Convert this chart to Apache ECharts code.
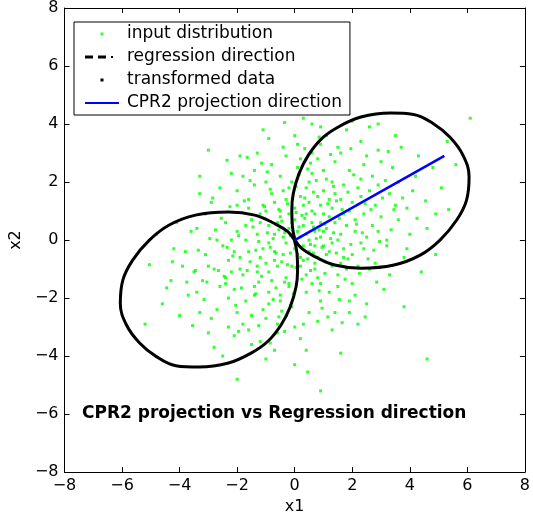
<!DOCTYPE html>
<html><head><meta charset="utf-8">
<script src="https://cdn.jsdelivr.net/npm/echarts@6/dist/echarts.min.js"></script>
<style>html,body{margin:0;padding:0;background:#fff}#c{width:533px;height:520px}</style>
</head><body><div id="c"></div>
<script>
const ticks = [-8,-6,-4,-2,0,2,4,6,8];
const inputPoints = [
[0.2,0.1],[-0.5,0.8],[1.2,-0.4],[0.8,1.5],[-1.3,-0.9],[2.1,0.7],[-0.2,-1.6],[0.6,2.3],[-2.0,0.3],[1.7,1.9],
[-0.9,-2.2],[2.8,1.2],[-1.6,1.4],[0.3,-0.7],[1.1,0.4],[-0.7,0.2],[0.0,1.1],[-1.1,-0.3],[1.5,-1.2],[0.5,-2.5],
[-2.4,-1.5],[2.4,2.6],[-0.3,2.9],[3.2,-0.2],[-3.1,0.9],[0.9,3.3],[-1.8,-2.9],[1.9,-2.1],[-0.6,-3.2],[3.6,2.0],
[-2.7,-2.4],[2.6,-1.0],[-1.4,2.4],[0.1,-1.1],[0.7,0.9],[-0.4,-0.5],[1.3,1.1],[-0.8,1.6],[2.0,-0.5],[-1.9,-0.6],
[0.4,1.8],[1.6,0.2],[-1.2,0.6],[0.9,-1.5],[-0.1,2.0],[2.3,1.5],[-2.2,-1.1],[1.0,-0.2],[-0.5,-1.9],[1.4,2.7],
[-3.4,-1.8],[3.9,1.1],[-2.6,1.8],[2.9,3.1],[-1.5,-3.6],[0.2,-3.4],[4.3,2.9],[-3.8,-0.4],[1.8,3.8],[-0.9,3.5],
[3.1,-1.7],[-2.1,-3.3],[4.6,0.4],[-4.0,-2.6],[2.2,-2.9],[-1.0,-4.1],[0.6,4.0],[5.1,1.8],[-3.3,2.2],[3.5,3.6],
[0.3,0.5],[-0.2,0.4],[0.8,-0.6],[-0.6,-0.9],[1.2,0.8],[-1.0,1.0],[0.5,1.3],[0.0,-0.3],[1.9,1.0],[-1.7,0.0],
[0.1,2.5],[2.5,0.1],[-0.3,-2.6],[-2.5,-0.2],[1.6,-0.8],[-1.4,-1.6],[0.7,-1.0],[-0.7,1.3],[2.7,2.2],[-2.3,-2.0],
[1.1,2.1],[-1.1,-2.4],[2.0,-1.5],[-2.0,1.2],[0.4,-1.8],[-0.4,1.7],[3.0,0.8],[-3.0,-0.9],[1.4,-2.5],[-1.3,3.0],
[0.9,0.1],[-0.1,-0.9],[0.6,0.6],[-0.9,-0.1],[1.3,-0.1],[0.2,1.5],[-0.3,-1.3],[1.8,0.5],[-1.5,0.7],[0.5,-0.4],
[2.2,1.8],[-2.1,-1.7],[1.0,1.7],[-0.8,-1.4],[3.3,1.6],[-3.2,-1.4],[0.8,2.8],[-0.6,-2.9],[2.4,-0.3],[-2.4,0.6],
[1.5,3.2],[-1.6,-3.1],[3.8,-0.6],[-3.6,0.3],[0.0,3.6],[0.4,-3.8],[4.1,1.7],[-4.3,-1.4],[2.6,3.9],[-2.8,-3.7],
[1.7,-0.3],[-0.2,0.9],[0.3,-0.2],[-1.2,-0.6],[2.1,0.3],[-0.5,2.2],[0.9,-2.1],[1.6,1.4],[-1.8,-1.2],[0.0,0.7],
[1.2,-1.8],[-1.0,2.0],[2.9,0.3],[-2.7,0.0],[0.6,3.0],[-0.1,-2.3],[3.4,2.5],[-3.3,-2.5],[1.9,2.4],[-1.7,-2.1],
[2.5,-2.2],[-2.2,2.3],[4.0,0.2],[-3.9,-0.9],[1.1,3.6],[-1.2,-3.5],[4.8,2.5],[-4.6,-2.2],[0.3,4.2],[0.0,-4.3],
[0.7,0.3],[-0.7,-0.4],[1.0,0.9],[-0.4,0.1],[1.4,0.6],[-1.3,0.2],[0.2,-0.6],[0.4,0.9],[-0.9,0.5],[1.7,-0.6],
[2.3,2.1],[-2.3,-0.7],[0.8,-2.8],[-0.8,2.6],[3.6,0.7],[-3.5,-1.1],[2.8,-0.8],[-2.9,1.3],[1.3,-3.1],[-1.4,1.9],
[5.3,3.4],[-4.1,0.6],[4.4,-1.1],[-3.0,-3.2],[2.0,4.1],[-1.9,2.9],[3.7,3.2],[6.1,4.2],[4.6,-4.1],[-2.5,-4.0],
[0.1,0.3],[0.5,0.0],[-0.3,-0.1],[0.9,0.6],[-0.6,0.6],[0.2,-0.9],[1.1,-0.5],[-1.0,-0.8],[0.6,1.0],[1.5,0.0],
[-1.6,-0.4],[0.3,1.2],[-0.2,-1.5],[2.0,1.3],[-1.9,-1.0],[1.2,1.4],[-1.1,1.2],[0.8,-1.3],[2.4,0.9],[-2.4,-1.3],
[0.5,2.0],[-0.5,-2.1],[1.8,-1.0],[-1.6,1.1],[2.6,1.7],[-2.6,-1.6],[1.0,2.4],[-1.0,-2.7],[3.2,0.0],[-3.1,-0.5],
[0.2,2.8],[0.3,-2.9],[2.1,-1.9],[-2.0,1.7],[3.0,2.7],[-2.9,-2.7],[1.6,3.0],[-1.5,-2.6],[3.9,-0.3],[-3.7,-1.9],
[2.7,0.5],[-0.4,3.2],[1.5,-1.6],[-0.9,-1.8],[2.2,-0.9],[-2.2,0.0],[0.7,-0.8],[-0.3,1.4],[1.3,2.0],[-1.3,-1.1],
[3.5,1.2],[-3.4,0.4],[0.9,3.9],[-0.7,-3.8],[4.2,2.2],[-4.2,-0.3],[2.3,3.4],[-2.3,-3.0],[4.9,0.9],[-1.1,3.8],
[0.4,0.2],[0.1,-0.5],[-0.1,0.6],[0.7,-0.2],[-0.7,-0.7],[1.0,0.3],[-0.5,1.0],[0.6,-1.5],[1.4,1.6],[-1.4,-1.9],
[2.9,1.9],[-2.8,-1.0],[1.9,-2.5],[-1.8,2.2],[0.1,3.3],[0.0,-3.0],[3.3,-1.2],[-3.3,1.6],[2.5,2.9],[-2.0,-2.5],
[1.7,0.9],[-1.7,0.5],[0.4,-1.2],[-0.2,1.8],[2.3,-0.1],[-2.1,-0.4],[0.9,1.2],[-0.9,-1.1],[1.3,-0.9],[-1.2,0.9],
[0.15,0.45],[-0.35,0.25],[0.55,-0.15],[-0.15,-0.45],[0.85,0.35],[-0.85,-0.25],[0.35,0.75],[-0.45,-0.75],[1.05,-0.75],[-1.05,0.75],
[0.25,-1.35],[-0.25,1.25],[1.35,0.25],[-1.35,-0.35],[0.65,1.65],[-0.65,-1.65],[1.75,-1.35],[-1.75,1.35],[2.15,0.55],[-2.15,-0.55],
[0.45,2.45],[-0.45,-2.45],[2.55,-0.65],[-2.55,0.75],[1.25,2.95],[-1.25,-2.95],[3.05,1.45],[-3.05,-1.45],[0.95,-2.35],[-0.95,2.35],
[1.85,1.65],[-1.85,-1.65],[0.05,1.85],[-0.05,-1.85],[2.45,1.25],[-2.45,-1.25],[1.55,-2.05],[-1.55,2.05],[3.35,0.35],[-3.35,-0.35],
[0.75,0.05],[-0.75,0.05],[0.05,0.95],[0.05,-0.95],[1.15,1.25],[-1.15,-1.25],[1.45,-0.45],[-1.45,0.45],[0.55,-1.05],[-0.55,1.05],
[2.05,2.25],[-2.05,-2.25],[2.75,-0.35],[-2.75,0.35],[0.35,3.15],[-0.35,-3.15],[3.15,2.05],[-3.15,-2.05],[1.65,-2.85],[-1.65,2.85],
[0.25,0.85],[-0.25,-0.85],[0.95,-0.25],[-0.95,0.25],[1.55,0.75],[-1.55,-0.75],[0.45,-0.65],[-0.45,0.65],[1.95,-0.15],[-1.95,0.15],
[2.65,1.05],[-2.65,-1.05],[1.05,-1.15],[-1.05,1.15],[0.15,2.25],[-0.15,-2.25],[2.25,-1.15],[-2.25,1.15],[1.35,1.85],[-1.35,-1.85],
[3.75,1.45],[-3.75,-1.45],[0.85,3.55],[-0.85,-3.55],[4.25,0.75],[-4.25,-0.75],[2.85,-1.45],[-2.85,1.45],[1.95,3.15],[-1.95,-3.15],
[0.65,0.45],[-0.65,-0.45],[1.25,0.05],[-1.25,-0.05],[0.35,1.45],[-0.35,-1.45],[1.65,1.05],[-1.65,-1.05],[0.85,-1.75],[-0.85,1.75],
[2.35,0.25],[-2.35,-0.25],[0.55,2.65],[-0.55,-2.65],[2.95,-0.05],[-2.95,0.05],[1.15,-2.65],[-1.15,2.65],[3.45,1.05],[-3.45,-1.05],
[1.05,0.55],[-0.15,0.15],[0.25,-0.25],[0.65,-0.45],[-0.55,0.35],[1.45,1.35],[-1.25,-1.45],[0.75,2.05],[-0.75,-2.05],[1.85,-0.65],
[4.55,1.35],[-4.45,-1.65],[3.25,3.05],[-3.55,-2.95],[5.35,1.05],[-5.05,-0.85],[2.45,-2.65],[-2.35,2.75],[0.45,-4.55],[-0.35,4.05],
[-4.8,0.2],[5.6,2.6],[-2.0,-4.8],[1.6,-3.9],[3.8,-2.3],[-3.0,3.1],[0.9,-5.2],[-5.2,-2.9],[4.9,-0.5],[2.9,4.0]
];
const transformed1 = [
[0.01,0],[-0.08,0.46],[-0.1,1.03],[-0.05,1.6],[0.15,2.29],[0.47,2.92],[0.93,3.49],[1.5,3.89],[2.3,4.24],[3.33,4.38],
[4.13,4.33],[4.82,4.01],[5.39,3.55],[5.85,2.92],[6.06,2.18],[5.97,1.37],[5.63,0.69],[5.05,0],[4.36,-0.52],[3.45,-0.86],
[2.3,-0.97],[1.39,-0.86],[0.7,-0.57],[0.24,-0.29],[0.01,0]
];
const transformed2 = [
[-0.01,0],[0.08,-0.46],[0.1,-1.03],[0.05,-1.6],[-0.15,-2.29],[-0.47,-2.92],[-0.93,-3.49],[-1.5,-3.89],[-2.3,-4.24],[-3.33,-4.38],
[-4.13,-4.33],[-4.82,-4.01],[-5.39,-3.55],[-5.85,-2.92],[-6.06,-2.18],[-5.97,-1.37],[-5.63,-0.69],[-5.05,0],[-4.36,0.52],[-3.45,0.86],
[-2.3,0.97],[-1.39,0.86],[-0.7,0.57],[-0.24,0.29],[-0.01,0]
];
const projection = [[0,0],[5.2,2.9]];
const font = '"DejaVu Sans", sans-serif';
const minus = v => String(v).replace('-', '\u2212');
const axisBase = (pos, name, show) => ({
  type:'value', min:-8, max:8, interval:2, position:pos,
  name: show?name:'', nameLocation:'middle', nameGap: pos==='left'?28:22,
  nameTextStyle:{fontFamily:font,fontSize:16,color:'#000'},
  axisLine:{show:true,onZero:false,lineStyle:{color:'#000',width:1}},
  axisTick:{show:true,inside:true,length:5,lineStyle:{color:'#000'}},
  axisLabel:{show:show,fontFamily:font,fontSize:16,color:'#000',margin:6,formatter:minus},
  splitLine:{show:false}
});
const chart = echarts.init(document.getElementById('c'));
chart.setOption({
  animation:false,
  grid:{left:62,right:6,top:8,bottom:47},
  xAxis:[axisBase('bottom','x1',true),axisBase('top','',false)],
  yAxis:[Object.assign(axisBase('left','x2',true),{nameRotate:90}),axisBase('right','',false)],
  legend:{orient:'vertical',left:74,top:22,itemGap:5,itemWidth:40,itemHeight:18,
    backgroundColor:'#fff',borderColor:'#000',borderWidth:1,padding:[3,8,3,8],
    textStyle:{fontFamily:font,fontSize:17,color:'#000'},
    data:[
      {name:'input distribution',icon:'path://M0,0h0.01v0.01h-0.01ZM18.5,7.5h3v3h-3ZM40,18h0.01v0.01h-0.01Z',itemStyle:{color:'#00ff00'}},
      {name:'regression direction',icon:'path://M0,0h0.01v0.01h-0.01ZM3,7.5h8v3h-8ZM16,7.5h8v3h-8ZM29,8h2v2h-2ZM40,18h0.01v0.01h-0.01Z',itemStyle:{color:'#000'}},
      {name:'transformed data',icon:'path://M0,0h0.01v0.01h-0.01ZM18.5,7.5h3v3h-3ZM40,18h0.01v0.01h-0.01Z',itemStyle:{color:'#000'}},
      {name:'CPR2 projection direction',icon:'path://M0,0h0.01v0.01h-0.01ZM3,8h34v2h-34ZM40,18h0.01v0.01h-0.01Z',itemStyle:{color:'#0000ff'}}
    ]},
  graphic:[{type:'text',left:82,top:405,style:{text:'CPR2 projection vs Regression direction',font:'bold 17px '+font,fill:'#000'}}],
  series:[
    {name:'input distribution',type:'scatter',data:inputPoints,symbol:'rect',symbolSize:3,itemStyle:{color:'#00ff00'}},
    {name:'regression direction',type:'line',data:[],lineStyle:{color:'#000',type:'dashed',width:2},symbol:'none'},
    {name:'transformed data',type:'line',data:transformed1,smooth:0.4,symbol:'none',lineStyle:{color:'#000',width:3},itemStyle:{color:'#000'}},
    {name:'transformed data',type:'line',data:transformed2,smooth:0.4,symbol:'none',lineStyle:{color:'#000',width:3},itemStyle:{color:'#000'}},
    {name:'CPR2 projection direction',type:'line',data:projection,symbol:'none',lineStyle:{color:'#0000ff',width:2.5},itemStyle:{color:'#0000ff'}}
  ]
});
</script></body></html>
